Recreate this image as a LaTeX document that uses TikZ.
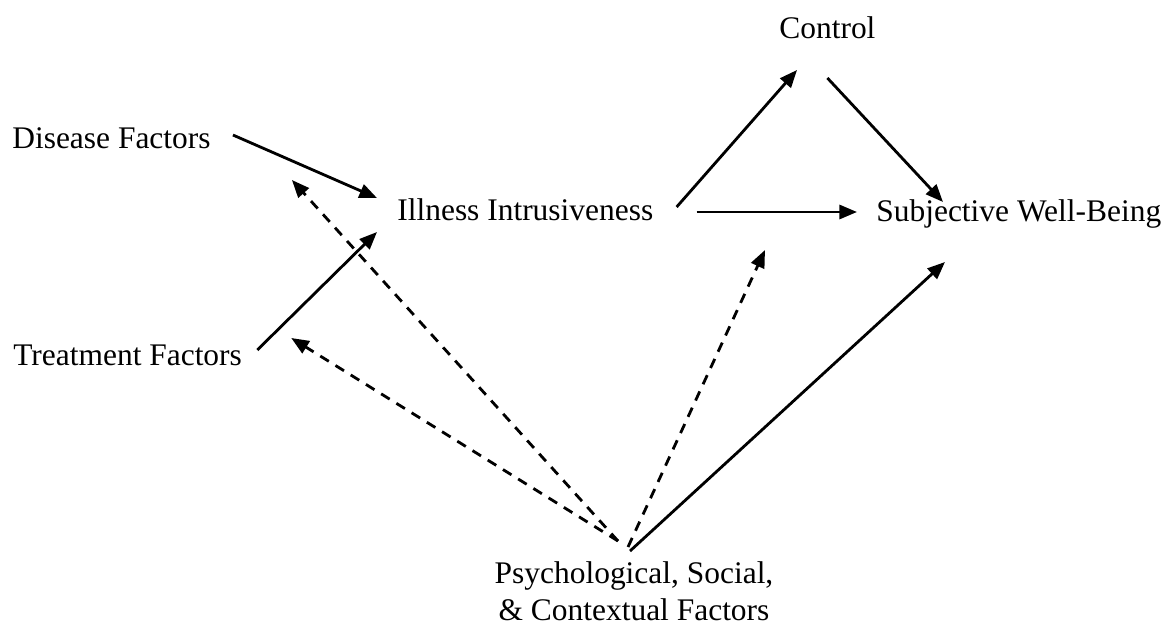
\documentclass[tikz,border=0pt]{standalone}
\usepackage{fontspec}
\setmainfont{Liberation Serif}
\usetikzlibrary{arrows.meta}
\tikzset{
    x=0.02cm, y=-0.02cm, % one unit = one pixel, y runs down
    >={Triangle[length=10pt, width=8pt]}, % filled arrowheads
    every node/.style={inner sep=0pt, font=\fontsize{17.9pt}{21pt}\selectfont},
    link/.style={->, line width=1.6pt}, % direct effect
    moderate/.style={link, dash pattern=on 5.7pt off 4.5pt}, % moderating effect
}

\begin{document}
\begin{tikzpicture}
    \useasboundingbox (0,0) rectangle (1170,629);

    \node[anchor=base west] (dis) at (12,148) {Disease Factors};
    \node[anchor=base west] (trt) at (13,365) {Treatment Factors};
    \node[anchor=base west] (ill) at (397,220) {Illness Intrusiveness};
    \node[anchor=base west] (ctl) at (779,38) {Control};
    \node[anchor=base west] (swb) at (876,221) {Subjective Well-Being};
    \node[anchor=north, align=center] (psy) at (634,561)
        {Psychological, Social,\\ \& Contextual Factors};

    \path
        ([shift={(22,-13)}]dis.base east) edge[link] ([shift={(-20,-22)}]ill.base west)
        ([shift={(15,-15)}]trt.base east) edge[link] ([shift={(-20,12)}]ill.base west)
        ([shift={(23,-13)}]ill.base east) edge[link] ([shift={(18,32)}]ctl.base west)
        ([shift={(0,40)}]ctl.base) edge[link] ([shift={(67,-19)}]swb.base west)
        ([shift={(43,-8)}]ill.base east) edge[link] ([shift={(-19,-9)}]swb.base west)
        ([shift={(-4,-10)}]psy.north) edge[link] ([shift={(69,41)}]swb.base west)
        ([shift={(-16,-20)}]psy.north) edge[moderate] ([shift={(81,32)}]dis.base east)
                                       edge[moderate] ([shift={(49,-27)}]trt.base east)
        ([shift={(-6,-14)}]psy.north) edge[moderate] ([shift={(-111,29)}]swb.base west);
\end{tikzpicture}
\end{document}
